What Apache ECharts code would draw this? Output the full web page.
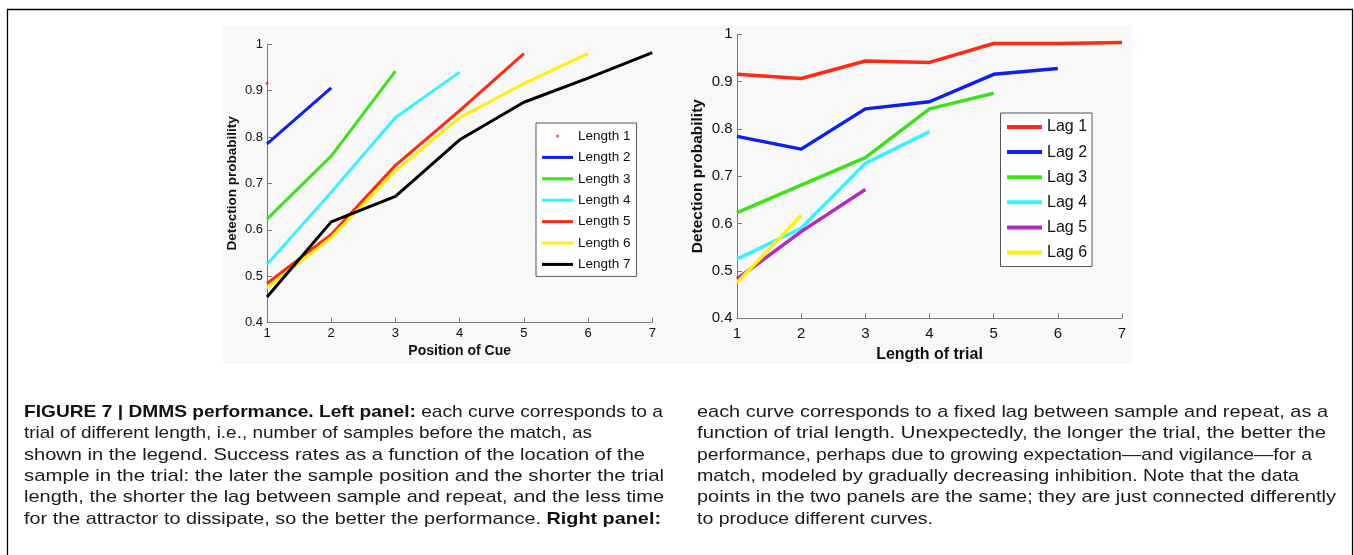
<!DOCTYPE html>
<html>
<head>
<meta charset="utf-8">
<script src="https://cdn.jsdelivr.net/npm/echarts@6/dist/echarts.min.js"></script>
<style>
  html, body { margin: 0; padding: 0; background: #fff; }
  #wrap { position: relative; width: 1354px; height: 555px; overflow: hidden; }
  #chart { position: absolute; left: 0; top: 0; width: 1354px; height: 555px; }
  .cap { position: absolute; white-space: nowrap; font-family: "Liberation Sans", Arial, Helvetica, sans-serif;
         font-size: 17px; line-height: 21.3px; color: #1a1a1a; transform-origin: 0 0; }
  .cap b { font-weight: bold; color: #111; }
</style>
</head>
<body>
<div id="wrap">
  <div id="chart"></div>
</div>
<script>
// ---------- data ----------
const positions = [1, 2, 3, 4, 5, 6, 7];
const yTicks = [0.4, 0.5, 0.6, 0.7, 0.8, 0.9, 1];

const leftNames = ['Length 1', 'Length 2', 'Length 3', 'Length 4', 'Length 5', 'Length 6', 'Length 7'];
const length1 = [0.916];
const length2 = [0.785, 0.906];
const length3 = [0.623, 0.759, 0.942];
const length4 = [0.525, 0.681, 0.842, 0.940];
const length5 = [0.484, 0.590, 0.739, 0.857, 0.980];
const length6 = [0.475, 0.583, 0.727, 0.842, 0.915, 0.980];
const length7 = [0.455, 0.617, 0.672, 0.794, 0.875, 0.927, 0.982];

const rightNames = ['Lag 1', 'Lag 2', 'Lag 3', 'Lag 4', 'Lag 5', 'Lag 6'];
const lag1 = [0.915, 0.906, 0.943, 0.940, 0.980, 0.980, 0.982];
const lag2 = [0.784, 0.757, 0.842, 0.857, 0.915, 0.927];
const lag3 = [0.623, 0.681, 0.739, 0.842, 0.875];
const lag4 = [0.525, 0.590, 0.727, 0.794];
const lag5 = [0.483, 0.583, 0.672];
const lag6 = [0.475, 0.617];

const captionLeft = [
  '<b>FIGURE 7 | DMMS performance. Left panel:</b> each curve corresponds to a',
  'trial of different length, i.e., number of samples before the match, as',
  'shown in the legend. Success rates as a function of the location of the',
  'sample in the trial: the later the sample position and the shorter the trial',
  'length, the shorter the lag between sample and repeat, and the less time',
  'for the attractor to dissipate, so the better the performance. <b>Right panel:</b>'
];
const captionRight = [
  'each curve corresponds to a fixed lag between sample and repeat, as a',
  'function of trial length. Unexpectedly, the longer the trial, the better the',
  'performance, perhaps due to growing expectation\u2014and vigilance\u2014for a',
  'match, modeled by gradually decreasing inhibition. Note that the data',
  'points in the two panels are the same; they are just connected differently',
  'to produce different curves.'
];

// ---------- styles ----------
const leftColors = ['#ff2a10', '#0a1ff0', '#3ee01a', '#3ef0ff', '#ff2a10', '#ffee10', '#000000'];
const rightColors = ['#ff2a10', '#0a1ff0', '#3ee01a', '#3ef0ff', '#ae2cbe', '#ffee10'];
const FONT = '"Liberation Sans", Arial, Helvetica, sans-serif';
const AX = '#7a7a7a';

function toPts(arr) { return arr.map((v, i) => [positions[i], v]); }

function xAxis(grid, name, fs, nfs, gap, margin) {
  return {
    gridIndex: grid, type: 'value', min: 1, max: 7, interval: 1,
    name: name, nameLocation: 'middle', nameGap: gap,
    nameTextStyle: { fontFamily: FONT, fontWeight: 'bold', fontSize: nfs, color: '#111', verticalAlign: 'top' },
    axisLine: { show: true, lineStyle: { color: AX, width: 1 } },
    axisTick: { show: true, inside: true, length: 5, lineStyle: { color: AX } },
    axisLabel: { fontFamily: FONT, fontSize: fs, color: '#111', margin: margin },
    splitLine: { show: false }
  };
}
function yAxis(grid, fs, nfs, gap, margin) {
  return {
    gridIndex: grid, type: 'value', min: 0.4, max: 1, interval: 0.1,
    name: 'Detection probability', nameLocation: 'middle', nameGap: gap,
    nameTextStyle: { fontFamily: FONT, fontWeight: 'bold', fontSize: nfs, color: '#111' },
    axisLine: { show: true, lineStyle: { color: AX, width: 1 } },
    axisTick: { show: true, inside: true, length: 5, lineStyle: { color: AX } },
    axisLabel: { fontFamily: FONT, fontSize: fs, color: '#111', margin: margin,
                 formatter: v => String(+v.toFixed(1)) },
    splitLine: { show: false }
  };
}

const leftArrays = [length1, length2, length3, length4, length5, length6, length7];
const rightArrays = [lag1, lag2, lag3, lag4, lag5, lag6];

const series = [];
leftArrays.forEach((arr, i) => {
  if (arr.length === 1) {
    series.push({
      name: leftNames[i], type: 'scatter', xAxisIndex: 0, yAxisIndex: 0,
      data: toPts(arr), symbol: 'circle', symbolSize: 3,
      itemStyle: { color: leftColors[i] }, silent: true
    });
  } else {
    series.push({
      name: leftNames[i], type: 'line', xAxisIndex: 0, yAxisIndex: 0,
      data: toPts(arr), showSymbol: false, symbol: 'none',
      lineStyle: { color: leftColors[i], width: 3 }, itemStyle: { color: leftColors[i] },
      animation: false, silent: true
    });
  }
});
rightArrays.forEach((arr, i) => {
  series.push({
    name: rightNames[i], type: 'line', xAxisIndex: 1, yAxisIndex: 1,
    data: toPts(arr), showSymbol: false, symbol: 'none',
    lineStyle: { color: rightColors[i], width: 3.5 }, itemStyle: { color: rightColors[i] },
    animation: false, silent: true
  });
});

const chart = echarts.init(document.getElementById('chart'), null, { renderer: 'canvas' });
chart.setOption({
  animation: false,
  backgroundColor: '#ffffff',
  textStyle: { fontFamily: FONT },
  graphic: [
    { type: 'rect', z: -100, shape: { x: 7.5, y: 9.5, width: 1345, height: 600 },
      style: { fill: '#ffffff', stroke: '#000', lineWidth: 1.3 } },
    { type: 'rect', z: -90, shape: { x: 223, y: 25, width: 909, height: 339 },
      style: { fill: '#f8f8f8' } }
  ],
  grid: [
    { left: 267, top: 44.3, width: 385.3, height: 278.2 },
    { left: 737, top: 34, width: 385, height: 284.3 }
  ],
  xAxis: [
    xAxis(0, 'Position of Cue', 13, 14, 18.5, 4),
    xAxis(1, 'Length of trial', 15, 16, 26, 8)
  ],
  yAxis: [
    yAxis(0, 13, 13.5, 28, 4),
    yAxis(1, 15, 15.5, 31, 4.5)
  ],
  legend: [
    {
      data: leftNames.map((n, i) => ({ name: n, icon: i === 0 ? 'circle' : 'rect' })),
      orient: 'vertical', left: 536, top: 123,
      padding: [5, 6, 4, 6], itemWidth: 31, itemHeight: 3, itemGap: 5.4,
      backgroundColor: '#fff', borderColor: '#555', borderWidth: 1,
      textStyle: { fontFamily: FONT, fontSize: 13.5, color: '#111', lineHeight: 16 },
      selectedMode: false
    },
    {
      data: rightNames.map(n => ({ name: n, icon: 'rect' })),
      orient: 'vertical', left: 1000.5, top: 113,
      padding: [5, 5, 5, 6.5], itemWidth: 35, itemHeight: 4, itemGap: 7.1,
      backgroundColor: '#fff', borderColor: '#555', borderWidth: 1,
      textStyle: { fontFamily: FONT, fontSize: 16, color: '#111', lineHeight: 18 },
      selectedMode: false
    }
  ],
  series: series
});

// ---------- caption ----------
const wrap = document.getElementById('wrap');
function placeCaption(lines, left, ends) {
  lines.forEach((html, i) => {
    const d = document.createElement('div');
    d.className = 'cap';
    d.innerHTML = html;
    d.style.left = left + 'px';
    d.style.top = (401 + i * 21.3) + 'px';
    wrap.appendChild(d);
    const w = d.getBoundingClientRect().width;
    const target = ends[i] - left;
    d.style.transform = 'scaleX(' + (target / w) + ')';
  });
}
placeCaption(captionLeft, 24, [663, 592, 645, 664, 664, 661]);
placeCaption(captionRight, 697, [1328, 1326, 1312, 1299, 1336, 933]);
</script>
</body>
</html>
